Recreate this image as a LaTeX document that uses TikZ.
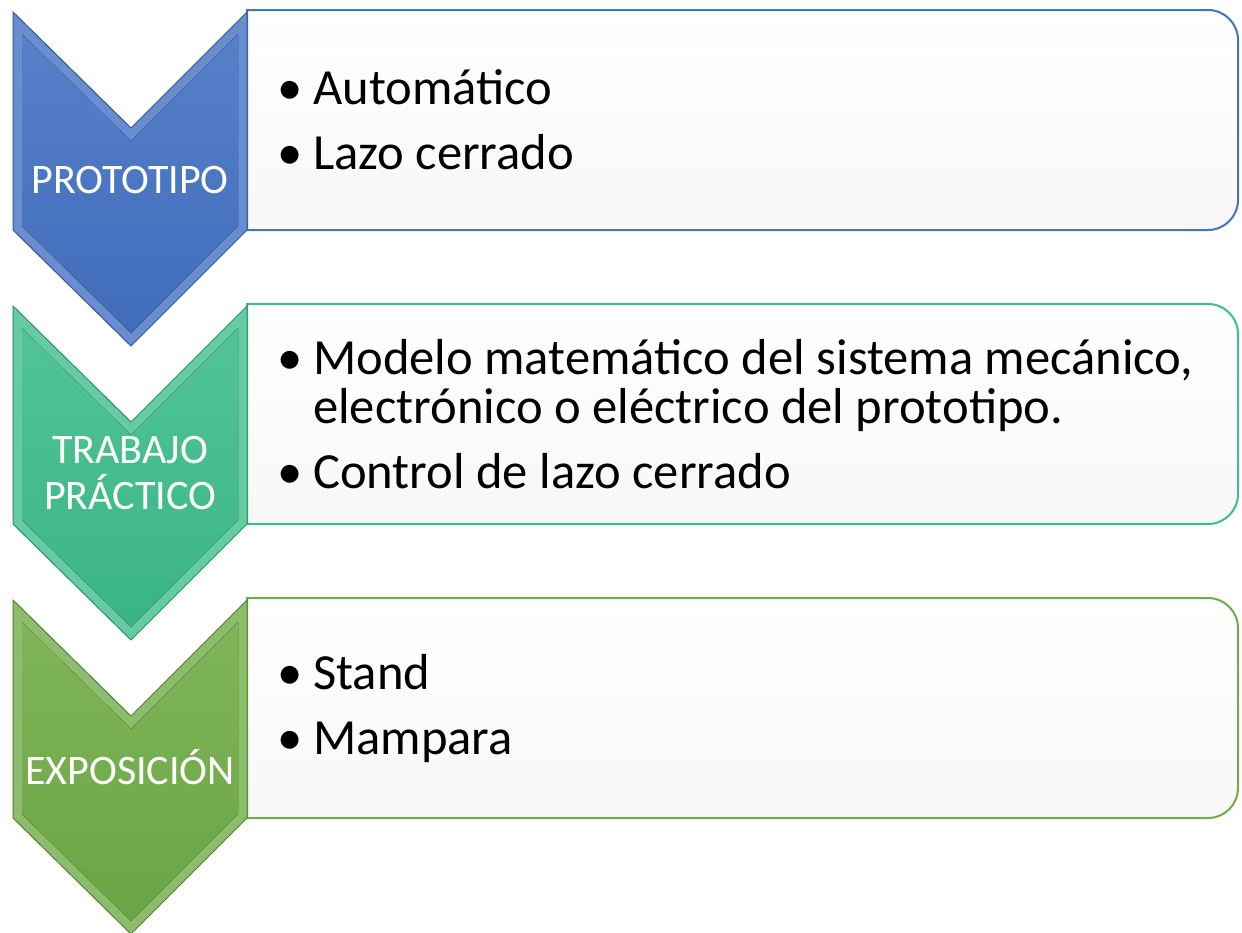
\documentclass[tikz,border=0pt]{standalone}
\usepackage{fontspec}
\setmainfont{Carlito}
\usepackage{tikz}
\usetikzlibrary{positioning}
\definecolor{protoblue}{RGB}{68,114,196}
\definecolor{trabteal}{RGB}{62,190,140}
\definecolor{expgreen}{RGB}{112,173,71}
\newcommand{\bul}{\makebox[36pt][l]{•}}

\begin{document}
\begin{tikzpicture}[x=1pt,y=-1pt,
    caja/.style={draw=#1,line width=2pt,top color=white,middle color=white,bottom color=black!3},
    etiqueta/.style={text=white,align=center,inner sep=0pt,font=\fontsize{42}{46}\selectfont},
    lista/.style={anchor=west,align=left,inner sep=0pt,font=\fontsize{50.6}{49}\selectfont}]
    \useasboundingbox (0,0) rectangle (1242,932);
    
    \foreach \y/\col in {12/protoblue,306/trabteal,600/expgreen}
    {
        \draw[caja=\col] (247,\y-2) -- (1000,\y-2) [rounded corners=30pt] -- (1238,\y-2) -- (1238,\y+218) -- (1000,\y+218) [sharp corners] -- (247,\y+218) -- cycle;
        \filldraw[draw=\col!75!black,fill=\col!80!white,line width=1pt] (13,\y) -- (131,\y+116) -- (247,\y) -- (247,\y+218) -- (131,\y+334) -- (13,\y+218) -- cycle;
        \fill[top color=\col!90!white,bottom color=\col!95!black] (22,\y+22) -- (131,\y+129) -- (238,\y+22) -- (238,\y+214) -- (131,\y+321) -- (22,\y+214) -- cycle;
    }
    
    \node[etiqueta] (proto) at (130,180) {PROTOTIPO};
    \node[etiqueta] (trabajo) at (130,473) {TRABAJO\\PRÁCTICO};
    \node[etiqueta] (expo) at (130,767) {EXPOSICIÓN};
    
    \node[lista] (items1) at (277,120) {\bul Automático\\[16pt]\bul Lazo cerrado};
    \node[lista] (items2) at (277,414) {\bul Modelo matemático del sistema mecánico,\\\hspace*{36pt}electrónico o eléctrico del prototipo.\\[16pt]\bul Control de lazo cerrado};
    \node[lista] (items3) at (277,708) {\bul Stand\\[16pt]\bul Mampara};
\end{tikzpicture}
\end{document}
